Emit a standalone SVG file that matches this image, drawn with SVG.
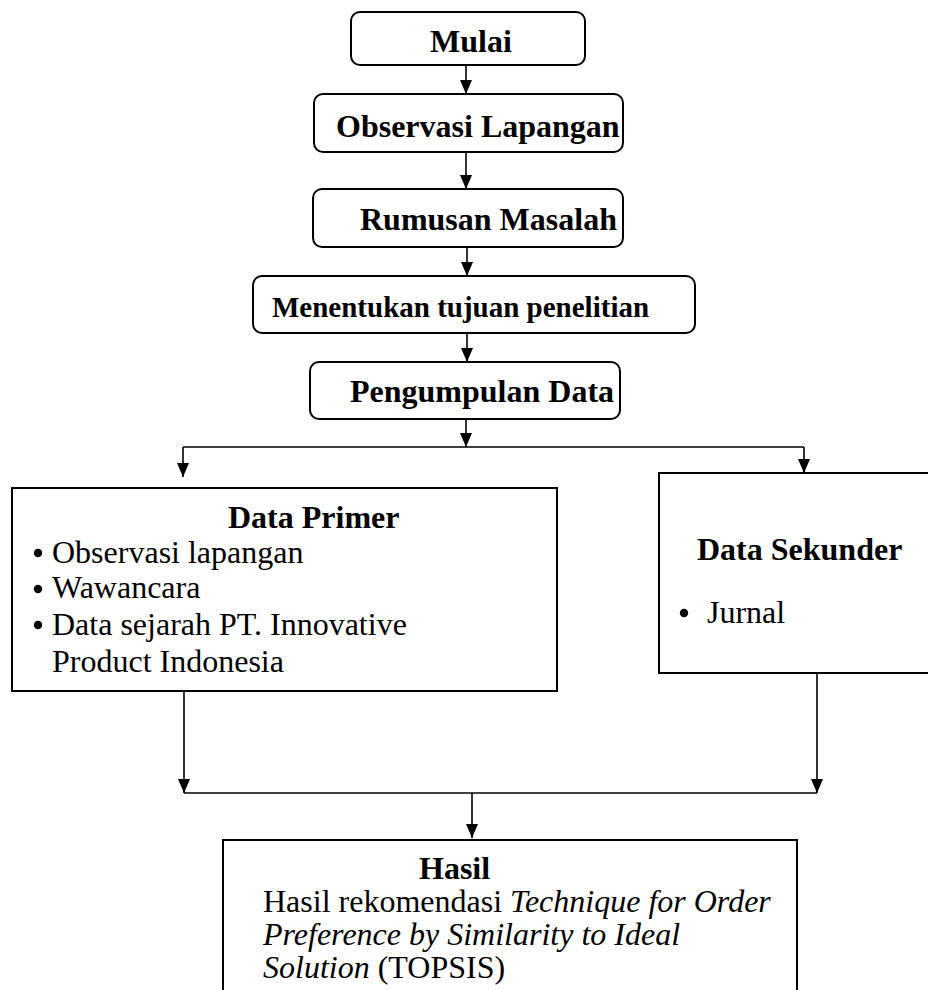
<svg xmlns="http://www.w3.org/2000/svg" width="928" height="990" viewBox="0 0 928 990">
<defs>
<marker id="ah" viewBox="0 0 14 12" refX="14" refY="6" markerWidth="14" markerHeight="12" markerUnits="userSpaceOnUse" orient="auto">
<path d="M0,0 L14,6 L0,12 Z" fill="#000"/>
</marker>
<style>
.rb{fill:#fff;stroke:#000;stroke-width:2}
.sq{fill:#fff;stroke:#000;stroke-width:2}
.t{font-family:"Times New Roman","Liberation Serif",Times,serif;font-size:32px;fill:#000}
.b{font-weight:bold}
.i{font-style:italic}
.c{fill:none;stroke:#000;stroke-width:1.6}
</style>
</defs>
<rect width="928" height="990" fill="#fff"/>
<g id="connectors">
<line class="c" x1="466" y1="65" x2="466" y2="94" marker-end="url(#ah)"/>
<line class="c" x1="466" y1="152" x2="466" y2="189" marker-end="url(#ah)"/>
<line class="c" x1="467" y1="247" x2="467" y2="276" marker-end="url(#ah)"/>
<line class="c" x1="467" y1="333" x2="467" y2="362" marker-end="url(#ah)"/>
<line class="c" x1="466" y1="419" x2="466" y2="447" marker-end="url(#ah)"/>
<polyline class="c" points="183,447 804,447"/>
<line class="c" x1="183" y1="447" x2="183" y2="477" marker-end="url(#ah)"/>
<line class="c" x1="804" y1="447" x2="804" y2="473" marker-end="url(#ah)"/>
<line class="c" x1="184" y1="691" x2="184" y2="793" marker-end="url(#ah)"/>
<line class="c" x1="817" y1="673" x2="817" y2="793" marker-end="url(#ah)"/>
<polyline class="c" points="184,793 817,793"/>
<line class="c" x1="472" y1="793" x2="472" y2="838" marker-end="url(#ah)"/>
</g>
<g id="mulai">
<rect class="rb" x="351" y="12" width="234" height="53" rx="9"/>
<text class="t b" x="430" y="52">Mulai</text>
</g>
<g id="observasi">
<rect class="rb" x="314" y="94" width="309" height="58" rx="9"/>
<text class="t b" x="336" y="137">Observasi Lapangan</text>
</g>
<g id="rumusan">
<rect class="rb" x="313" y="189" width="310" height="58" rx="9"/>
<text class="t b" x="360" y="230">Rumusan Masalah</text>
</g>
<g id="tujuan">
<rect class="rb" x="253" y="276" width="442" height="57" rx="9"/>
<text class="t b" x="272" y="317" style="font-size:29px">Menentukan tujuan penelitian</text>
</g>
<g id="pengumpulan">
<rect class="rb" x="310" y="362" width="310" height="57" rx="9"/>
<text class="t b" x="350" y="402">Pengumpulan Data</text>
</g>
<g id="primer">
<rect class="sq" x="12" y="488" width="545" height="203"/>
<text class="t b" x="228" y="528">Data Primer</text>
<circle cx="38" cy="553" r="4.2"/>
<text class="t" x="52" y="563">Observasi lapangan</text>
<circle cx="38" cy="589" r="4.2"/>
<text class="t" x="52" y="598">Wawancara</text>
<circle cx="38" cy="625" r="4.2"/>
<text class="t" x="52" y="635">Data sejarah PT. Innovative</text>
<text class="t" x="52" y="672">Product Indonesia</text>
</g>
<g id="sekunder">
<rect class="sq" x="659" y="473" width="290" height="200"/>
<text class="t b" x="697" y="560">Data Sekunder</text>
<circle cx="684" cy="613" r="4.2"/>
<text class="t" x="707" y="623">Jurnal</text>
</g>
<g id="hasil">
<rect class="sq" x="223" y="840" width="574" height="170"/>
<text class="t b" x="419" y="879">Hasil</text>
<text class="t" x="263" y="912">Hasil rekomendasi <tspan class="i">Technique for Order</tspan></text>
<text class="t i" x="263" y="945">Preference by Similarity to Ideal</text>
<text class="t" x="263" y="978"><tspan class="i">Solution</tspan> (TOPSIS)</text>
</g>
</svg>
